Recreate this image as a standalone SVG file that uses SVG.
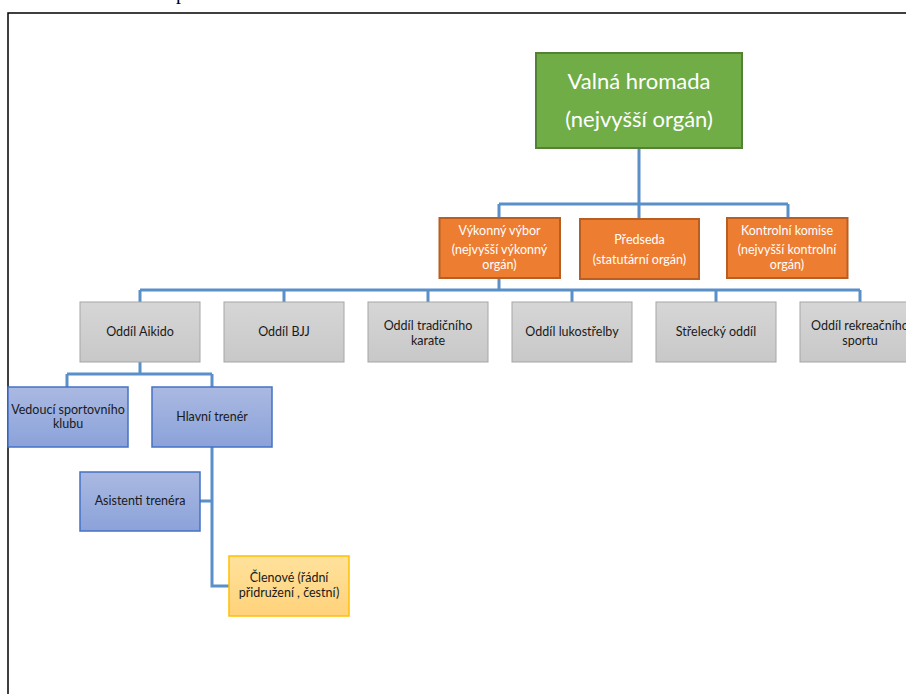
<svg xmlns="http://www.w3.org/2000/svg" width="906" height="694" viewBox="0 0 906 694">
<defs>
<linearGradient id="gGrey" x1="0" y1="0" x2="0" y2="1"><stop offset="0" stop-color="#D6D6D6"/><stop offset="1" stop-color="#C8C8C8"/></linearGradient>
<linearGradient id="gBlue" x1="0" y1="0" x2="0" y2="1"><stop offset="0" stop-color="#AAB9E2"/><stop offset="1" stop-color="#8BA2D9"/></linearGradient>
<linearGradient id="gYellow" x1="0" y1="0" x2="0" y2="1"><stop offset="0" stop-color="#FFE29D"/><stop offset="1" stop-color="#FFD27A"/></linearGradient>
</defs>
<style>
text{font-family:Lato,"Open Sans","Liberation Sans",sans-serif;text-anchor:middle}
.green{fill:#70AD47;stroke:#548235;stroke-width:2}
.orange{fill:#ED7D31;stroke:#B85E22;stroke-width:2}
.grey{fill:url(#gGrey);stroke:#A6A6A6;stroke-width:1}
.blue{fill:url(#gBlue);stroke:#4472C4;stroke-width:1.5}
.yellow{fill:url(#gYellow);stroke:#FFC000;stroke-width:1.5}
.tw{fill:#FFFFFF;font-size:12.5px}
.tg{fill:#FFFFFF;font-size:22px}
.td{fill:#1A1A1A;font-size:12.5px}
.conn{fill:none;stroke:#5A8FC7;stroke-width:3}
.frame{fill:none;stroke:#000000;stroke-width:1.5}
</style>
<text x="181" y="-1.5" style="font-family:'Liberation Serif',serif;font-size:20px;fill:#000">p</text>
<path class="frame" d="M8,694 V13 H906"/>
<g id="connectors">
<path class="conn" d="M639,148 V219"/>
<path class="conn" d="M499,204 H788 M499,204 V218 M788,204 V218"/>
<path class="conn" d="M499,278 V290"/>
<path class="conn" d="M140,290 H860 M140,290 V302 M284,290 V302 M428,290 V302 M572,290 V302 M716,290 V302 M860,290 V302"/>
<path class="conn" d="M140,362 V374 M67,374 H212 M67,374 V387 M212,374 V387"/>
<path class="conn" d="M212,447 V586 H229 M200,501 H212"/>
</g>
<g id="valna"><rect class="green" x="536" y="53" width="206" height="95"/><text class="tg" x="639" y="89">Valná hromada</text><text class="tg" x="639" y="127">(nejvyšší orgán)</text></g>
<g id="vykonny"><rect class="orange" x="439.5" y="218" width="120.5" height="60"/><text class="tw" x="499.5" y="235">Výkonný výbor</text><text class="tw" x="499.5" y="254">(nejvyšší výkonný</text><text class="tw" x="499.5" y="269">orgán)</text></g>
<g id="predseda"><rect class="orange" x="580" y="219" width="119" height="60"/><text class="tw" x="639.5" y="244">Předseda</text><text class="tw" x="639.5" y="264">(statutární orgán)</text></g>
<g id="kontrolni"><rect class="orange" x="727" y="218" width="120.5" height="60"/><text class="tw" x="787" y="235">Kontrolní komise</text><text class="tw" x="787" y="254">(nejvyšší kontrolní</text><text class="tw" x="787" y="269">orgán)</text></g>
<g id="aikido"><rect class="grey" x="80" y="302" width="120" height="60"/><text class="td" x="140" y="336">Oddíl Aikido</text></g>
<g id="bjj"><rect class="grey" x="224" y="302" width="120" height="60"/><text class="td" x="284" y="336">Oddíl BJJ</text></g>
<g id="karate"><rect class="grey" x="368" y="302" width="120" height="60"/><text class="td" x="428" y="330">Oddíl tradičního</text><text class="td" x="428" y="345">karate</text></g>
<g id="lukostrelba"><rect class="grey" x="512" y="302" width="120" height="60"/><text class="td" x="572" y="336">Oddíl lukostřelby</text></g>
<g id="strelecky"><rect class="grey" x="656" y="302" width="120" height="60"/><text class="td" x="716" y="336">Střelecký oddíl</text></g>
<g id="rekreacni"><rect class="grey" x="800" y="302" width="120" height="60"/><text class="td" x="860" y="330">Oddíl rekreačního</text><text class="td" x="860" y="345">sportu</text></g>
<g id="vedouci"><rect class="blue" x="8" y="387" width="120" height="60"/><text class="td" x="68" y="414">Vedoucí sportovního</text><text class="td" x="68" y="428">klubu</text></g>
<g id="hlavni"><rect class="blue" x="152" y="387" width="120" height="60"/><text class="td" x="212" y="421">Hlavní trenér</text></g>
<g id="asistenti"><rect class="blue" x="80" y="472" width="120" height="59"/><text class="td" x="140" y="505">Asistenti trenéra</text></g>
<g id="clenove"><rect class="yellow" x="229" y="556" width="120" height="60"/><text class="td" x="289" y="582">Členové (řádní</text><text class="td" x="289" y="597">přidružení , čestní)</text></g>
</svg>
